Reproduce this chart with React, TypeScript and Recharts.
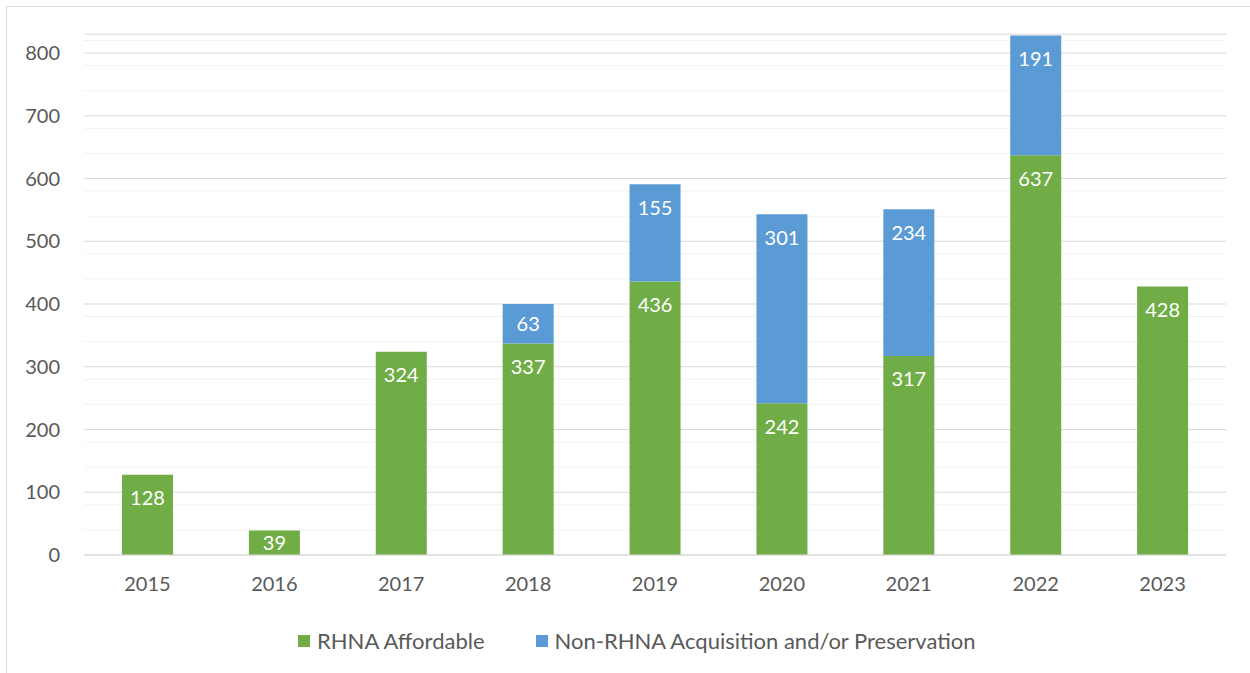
import { BarChart, Bar, XAxis, YAxis, CartesianGrid, LabelList } from 'recharts';

const years = ['2015', '2016', '2017', '2018', '2019', '2020', '2021', '2022', '2023'];
const rhnaAffordable = [128, 39, 324, 337, 436, 242, 317, 637, 428];
const nonRhna = [0, 0, 0, 63, 155, 301, 234, 191, 0];
const yTicks = [0, 100, 200, 300, 400, 500, 600, 700, 800];

const seriesNames = ['RHNA Affordable', 'Non-RHNA Acquisition and/or Preservation'];
const GREEN = '#70AD47';
const BLUE = '#5B9BD5';
const TEXT = '#595959';
const FONT = 'Lato, "Noto Sans", sans-serif';

const data = years.map((y, i) => ({ year: y, rhna: rhnaAffordable[i], non: nonRhna[i] }));

// minor gridlines every 20, skipping the major ones
const minorTicks: number[] = [];
for (let v = 20; v <= 820; v += 20) if (v % 100 !== 0) minorTicks.push(v);

// white value label near the top of each segment, pulled up for short segments
const SegmentLabel = (props: any) => {
  const { x, y, width, height, value } = props;
  if (!value) return null;
  const off = Math.min(16, Math.max(3, (height - 15) / 2));
  return (
    <text x={x + width / 2} y={y + off} dy="0.72em" textAnchor="middle" fill="#FFFFFF" fontSize={20} fontFamily={FONT}>
      {value}
    </text>
  );
};

export default function App() {
  return (
    <div style={{
      position: 'absolute', left: 6, top: 6, width: 1260, height: 680,
      border: '1px solid #D9D9D9', background: '#FFFFFF', fontFamily: FONT,
    }}>
      <BarChart
        width={1243}
        height={590}
        data={data}
        margin={{ top: 27.2, right: 24, left: 0, bottom: 0 }}
        barSize={51}
      >
        <CartesianGrid stroke="#F2F2F2" vertical={false} horizontalValues={minorTicks} />
        <CartesianGrid stroke="#D9D9D9" vertical={false} />
        <XAxis
          dataKey="year"
          tick={{ fontSize: 20, fill: TEXT, fontFamily: FONT }}
          tickLine={false}
          tickSize={0}
          tickMargin={22}
          axisLine={{ stroke: '#D9D9D9' }}
          height={42}
        />
        <YAxis
          domain={[0, 830]}
          ticks={yTicks}
          tick={{ fontSize: 20, fill: TEXT, fontFamily: FONT }}
          tickLine={false}
          tickSize={0}
          tickMargin={24}
          axisLine={false}
          width={77}
        />
        <Bar dataKey="rhna" stackId="a" fill={GREEN} isAnimationActive={false}>
          <LabelList dataKey="rhna" content={SegmentLabel} />
        </Bar>
        <Bar dataKey="non" stackId="a" fill={BLUE} isAnimationActive={false}>
          <LabelList dataKey="non" content={SegmentLabel} />
        </Bar>
      </BarChart>
      <div style={{
        position: 'absolute', left: 291, top: 620, display: 'flex', alignItems: 'center',
        fontSize: 22, color: TEXT, whiteSpace: 'nowrap',
      }}>
        {seriesNames.map((name, i) => (
          <div key={name} style={{ display: 'flex', alignItems: 'center', marginRight: 51 }}>
            <div style={{ width: 12, height: 12, background: i === 0 ? GREEN : BLUE, marginRight: 7 }} />
            <span>{name}</span>
          </div>
        ))}
      </div>
    </div>
  );
}
